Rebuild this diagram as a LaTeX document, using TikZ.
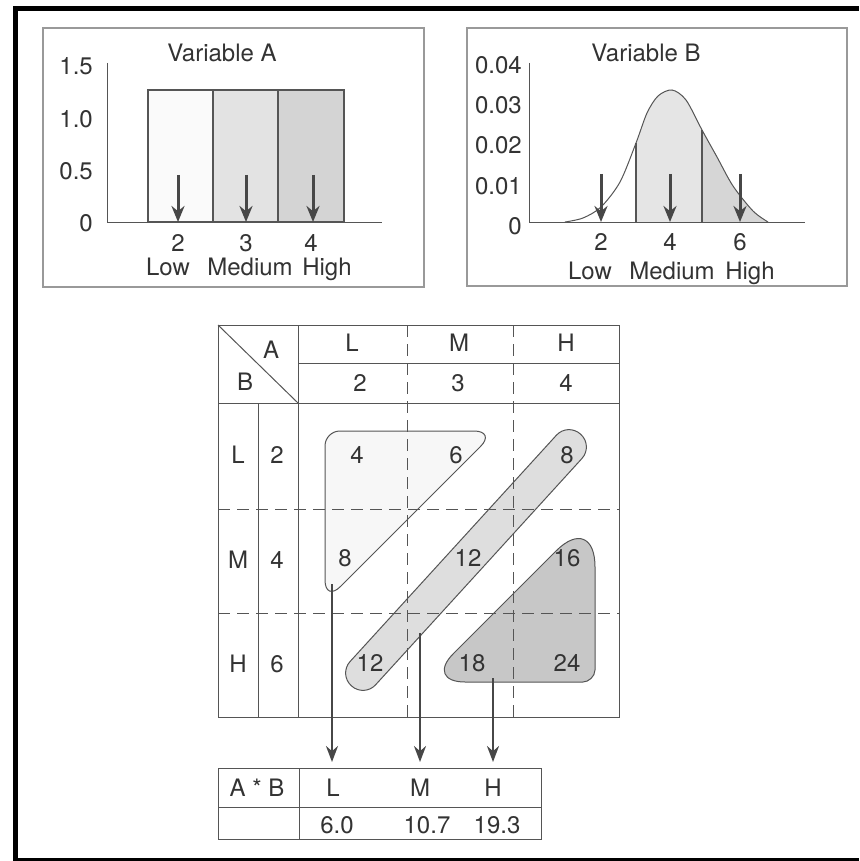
\documentclass[tikz,border=0pt]{standalone}
\usepackage{fontspec}
\setmainfont{TeX Gyre Heros}
\usetikzlibrary{calc,arrows.meta}
\definecolor{ink}{HTML}{333333}
\definecolor{rulegray}{HTML}{555555}
\definecolor{boxgray}{HTML}{999999}

\begin{document}
\begin{tikzpicture}[x=1pt,y=-1pt,
  lbl/.style={font=\fontsize{24}{28}\selectfont,text=ink,inner sep=0pt,text height=17pt,text depth=0pt},
  axisline/.style={rulegray,line width=1pt},
  grid/.style={rulegray,line width=1pt},
  dgrid/.style={rulegray,line width=1pt,dash pattern=on 12pt off 7pt},
  pick/.style={black!72,line width=3pt,-{Stealth[length=16pt,width=13pt]}},
  feed/.style={black!72,line width=2.4pt,-{Stealth[length=16pt,width=12pt]},shorten >=6pt},
  blob/.style={draw=rulegray,line width=1pt}]
\useasboundingbox (0,0) rectangle (859,861);
% frame
\fill (13,6) rectangle (859,11);
\fill (13,6) rectangle (18,861);
\fill (13,858) rectangle (859,861);

% Variable A
\draw[boxgray,line width=1.2pt] (43,28) rectangle (424,287);
\node[lbl] (titleA) at (222,53) {Variable A};
\foreach \v/\y in {1.5/66,1.0/119,0.5/171,0/223}
  \node[lbl,anchor=east] (yA\y) at (93,\y) {\v};
\filldraw[fill=black!2,draw=rulegray,line width=1.2pt] (148,90) rectangle (213,222);
\filldraw[fill=black!11,draw=rulegray,line width=1.2pt] (213,90) rectangle (278,222);
\filldraw[fill=black!17,draw=rulegray,line width=1.2pt] (278,90) rectangle (344,222);
\draw[axisline] (107,63) -- (107,222) -- (382,222);
\draw[pick] (178,175) -- (178,222);
\draw[pick] (246,175) -- (246,222);
\draw[pick] (313,175) -- (313,222);
\node[lbl] (xA2) at (178,243) {2};
\node[lbl] (xA3) at (246,243) {3};
\node[lbl] (xA4) at (311,243) {4};
\node[lbl] (lowA) at (168,267) {Low};
\node[lbl] (medA) at (250,267) {Medium};
\node[lbl] (highA) at (327,267) {High};

% Variable B
\draw[boxgray,line width=1.2pt] (467,28) rectangle (847,286);
\node[lbl] (titleB) at (646,53) {Variable B};
\foreach \v/\y in {0.04/65,0.03/105,0.02/145,0.01/186,0/226}
  \node[lbl,anchor=east] (yB\y) at (522,\y) {\v};
\begin{scope}
\clip plot[smooth] coordinates {(565,222) (583,218) (601,207) (620,182) (636,143) (647,113) (658,96) (672,90) (686,100) (702,130) (717,157) (733,186) (753,211) (768,222)} -- cycle;
\fill[black!10] (636,60) rectangle (702,222);
\fill[black!16] (702,60) rectangle (770,222);
\end{scope}
\draw[rulegray,line width=1pt] plot[smooth] coordinates {(565,222) (583,218) (601,207) (620,182) (636,143) (647,113) (658,96) (672,90) (686,100) (702,130) (717,157) (733,186) (753,211) (768,222)};
\draw[rulegray,line width=1.2pt] (636,222) -- (636,143);
\draw[rulegray,line width=1.2pt] (702,222) -- (702,130);
\draw[axisline] (529,63) -- (529,222) -- (805,222);
\draw[pick] (601,174) -- (601,222);
\draw[pick] (670,174) -- (670,222);
\draw[pick] (740,174) -- (740,222);
\node[lbl] (xB2) at (601,242) {2};
\node[lbl] (xB4) at (670,242) {4};
\node[lbl] (xB6) at (740,242) {6};
\node[lbl] (lowB) at (590,271) {Low};
\node[lbl] (medB) at (672,271) {Medium};
\node[lbl] (highB) at (750,271) {High};

% A x B table, groups first
\fill[black!3] (340,431) -- (474,431) .. controls (486.15,431) and (489.03,437.97) .. (480.44,446.56) -- (340.56,586.44) .. controls (331.97,595.03) and (325,592.15) .. (325,580) -- (325,446) .. controls (325,437.72) and (331.72,431) .. (340,431) -- cycle;
\fill[black!13,rounded corners=17pt] (478.8,571.7) -- (364.1,697.4) -- (338.6,674.1) -- (567.9,422.6) -- (593.4,445.9) -- cycle;
\fill[black!22] (556.11,550.89) .. controls (577.59,529.41) and (595,536.62) .. (595,567) -- (595,670) .. controls (595,676.63) and (588.37,682) .. (583,682) -- (465,682) .. controls (442.91,682) and (437.66,669.34) .. (453.28,653.72) -- cycle;

\draw[dgrid] (407,325) -- (407,717);
\draw[dgrid] (513,325) -- (513,717);
\draw[dgrid] (218,509) -- (619,509);
\draw[dgrid] (218,613) -- (619,613);
\draw[grid] (218,325) rectangle (619,717);
\draw[grid] (298,325) -- (298,717);
\draw[grid] (258,403) -- (258,717);
\draw[grid] (298,363) -- (619,363);
\draw[grid] (218,403) -- (619,403);
\draw[grid] (218,325) -- (298,403);

\draw[blob] (340,431) -- (474,431) .. controls (486.15,431) and (489.03,437.97) .. (480.44,446.56) -- (340.56,586.44) .. controls (331.97,595.03) and (325,592.15) .. (325,580) -- (325,446) .. controls (325,437.72) and (331.72,431) .. (340,431) -- cycle;
\draw[blob,rounded corners=17pt] (478.8,571.7) -- (364.1,697.4) -- (338.6,674.1) -- (567.9,422.6) -- (593.4,445.9) -- cycle;
\draw[blob] (556.11,550.89) .. controls (577.59,529.41) and (595,536.62) .. (595,567) -- (595,670) .. controls (595,676.63) and (588.37,682) .. (583,682) -- (465,682) .. controls (442.91,682) and (437.66,669.34) .. (453.28,653.72) -- cycle;

\node[lbl] (hA) at (271,350) {A};
\node[lbl] (hB) at (245,382) {B};
\node[lbl] (colL) at (352,343) {L};
\node[lbl] (colM) at (459,343) {M};
\node[lbl] (colH) at (566,343) {H};
\node[lbl] (colL2) at (360,383) {2};
\node[lbl] (colM3) at (458,383) {3};
\node[lbl] (colH4) at (566,383) {4};
\node[lbl] (rowL) at (238,455) {L};
\node[lbl] (rowL2) at (277,455) {2};
\node[lbl] (rowM) at (238,560) {M};
\node[lbl] (rowM4) at (277,560) {4};
\node[lbl] (rowH) at (238,664) {H};
\node[lbl] (rowH6) at (277,664) {6};
\node[lbl] (cLL) at (357,455) {4};
\node[lbl] (cLM) at (456,455) {6};
\node[lbl] (cLH) at (567,455) {8};
\node[lbl] (cML) at (345,558) {8};
\node[lbl] (cMM) at (468,558) {12};
\node[lbl] (cMH) at (567,558) {16};
\node[lbl] (cHL) at (370,663) {12};
\node[lbl] (cHM) at (472,663) {18};
\node[lbl] (cHH) at (567,663) {24};

% result table
\draw[grid] (218,768) rectangle (541,839);
\draw[grid] (299,768) -- (299,839);
\draw[grid] (218,807) -- (541,807);
\coordinate (restop) at (0,768);
\node[lbl] (ab) at (257,788) {A * B};
\node[lbl] (outL) at (333,788) {L};
\node[lbl] (outM) at (420,788) {M};
\node[lbl] (outH) at (493,788) {H};
\node[lbl] (valL) at (337,825) {6.0};
\node[lbl] (valM) at (427,825) {10.7};
\node[lbl] (valH) at (497,825) {19.3};

\coordinate (fromL) at (332,584);
\coordinate (fromM) at (420,633);
\coordinate (fromH) at (493,678);
\draw[feed] (fromL) -- (fromL |- restop);
\draw[feed] (fromM) -- (fromM |- restop);
\draw[feed] (fromH) -- (fromH |- restop);
\end{tikzpicture}
\end{document}
